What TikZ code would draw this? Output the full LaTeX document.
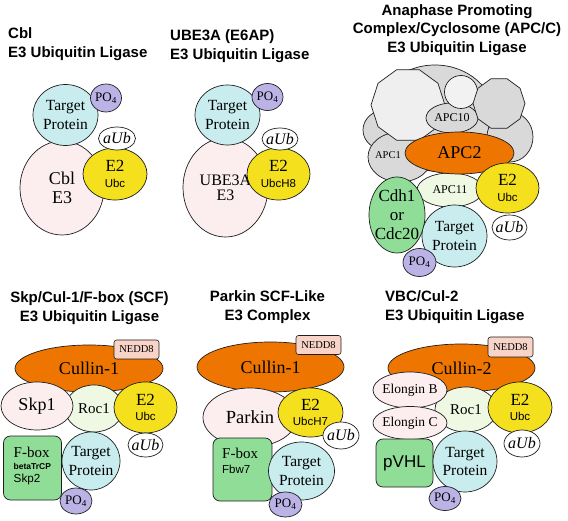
\documentclass[tikz,border=0pt]{standalone}
\usepackage{fontspec}
\setmainfont{Liberation Serif}
\setsansfont{Liberation Sans}
\usetikzlibrary{shapes.geometric}
\definecolor{ink}{HTML}{1E1E1E}
\definecolor{tgtcyan}{HTML}{C9EDEF}
\definecolor{phoslav}{HTML}{BBB2E6}
\definecolor{etwoyel}{HTML}{F4E01C}
\definecolor{ethreepink}{HTML}{FCEEEE}
\definecolor{culorange}{HTML}{EE7600}
\definecolor{boxgreen}{HTML}{8FDD97}
\definecolor{rocgreen}{HTML}{EFF8E2}
\definecolor{neddpink}{HTML}{F8D3C8}
\definecolor{apcgray}{HTML}{D9D9D9}
\definecolor{apclight}{HTML}{EFEFEF}
\newcommand{\fsz}[2]{\fontsize{#1}{#2}\selectfont}
\newcommand{\sfsub}[1]{{\sffamily\fsz{11.5}{12}#1}}
\tikzset{
  part/.style={ellipse,draw=ink,line width=0.7pt,inner sep=0pt,outer sep=0pt,align=center},
  wh/.style 2 args={minimum width=#1pt,minimum height=#2pt},
  target/.style={part,fill=tgtcyan,inner xsep=-4pt,font=\fsz{15.5}{18.5}},
  phos/.style={part,fill=phoslav,inner xsep=-3pt,font=\fsz{13}{14}},
  ubq/.style={part,fill=white,inner xsep=-6pt,font=\fsz{16}{16}\itshape},
  etwo/.style={part,fill=etwoyel,font=\fsz{17}{15.5}},
  ethree/.style={part,fill=ethreepink},
  cullin/.style={part,fill=culorange,font=\fsz{18}{18}},
  ringer/.style={part,fill=rocgreen,font=\fsz{15}{15}},
  apcpart/.style={part,fill=apcgray,inner xsep=-3pt,font=\fsz{12}{12}},
  apcpoly/.style={regular polygon,regular polygon sides=10,draw=ink,line width=0.7pt,inner sep=0pt},
  adaptor/.style={rectangle,rounded corners=7pt,draw=ink,line width=0.7pt,fill=boxgreen,inner sep=0pt},
  boxtext/.style={inner sep=0pt,anchor=north west,align=left,font=\fsz{15}{15.5}},
  boxline/.style={inner sep=0pt,anchor=base west},
  neddtag/.style={rectangle,rounded corners=2.5pt,draw=ink,line width=0.6pt,fill=neddpink,
                  minimum width=45pt,minimum height=19pt,inner sep=0pt,font=\fsz{10.5}{11}},
  heading/.style={inner sep=0pt,font=\sffamily\bfseries\fsz{15}{19}}
}
\begin{document}
\begin{tikzpicture}[x=1pt,y=-1pt]
  \useasboundingbox (0,0) rectangle (568,521);

  % Cbl
  \node[heading,anchor=west,align=left] (ttlcbl) at (8,44) {Cbl\\E3 Ubiquitin Ligase};
  \node[ethree,wh={84}{94},font=\fsz{18}{19}] (cbl) at (62,188) {Cbl\\E3};
  \node[target,wh={65}{61}] (tgta) at (65.5,115) {Target\\Protein};
  \node[etwo,wh={64}{52}] (etwoa) at (115,174) {E2\\\sfsub{Ubc}};
  \node[ubq,wh={37}{23}] (ubqa) at (117,138.5) {aUb};
  \node[phos,wh={31}{28}] (phosa) at (106,98) {PO\textsubscript{4}};

  % UBE3A
  \node[heading,anchor=west,align=left] (ttlube) at (170,46) {UBE3A (E6AP)\\E3 Ubiquitin Ligase};
  \node[ethree,wh={85}{99},font=\fsz{16}{15}] (ube) at (225.5,187.5) {UBE3A\\E3};
  \node[target,wh={65}{60}] (tgtb) at (227.5,115) {Target\\Protein};
  \node[etwo,wh={63}{52}] (etwob) at (278.5,174) {E2\\\sfsub{UbcH8}};
  \node[ubq,wh={36}{22}] (ubqb) at (280,139) {aUb};
  \node[phos,wh={31}{27}] (phosb) at (267.5,97) {PO\textsubscript{4}};

  % APC/C
  \node[heading,align=center,font=\sffamily\bfseries\fsz{15}{18.5}] (ttlapc) at (457,30)
    {Anaphase Promoting\\Complex/Cyclosome (APC/C)\\E3 Ubiquitin Ligase};
  \node[apcpart,wh={120}{106}] (apcback) at (435,118) {};
  \node[apcpart,wh={44}{40}] (apcleft) at (385,130) {};
  \node[apcpart,wh={46}{50}] (apcright) at (510,137) {};
  \node[apcpart,wh={64}{50}] (apcone) at (400,157) {};
  \node[font=\fsz{10.5}{11}] (apconetxt) at (388,155) {APC1};
  \node[apcpoly,fill=apclight,minimum size=74pt] (apcbig) at (408,105) {};
  \node[apcpart,wh={52}{30}] (apcten) at (452,118) {APC10};
  \node[part,fill=white!95!black,wh={33}{33}] (apcring) at (461,92) {};
  \node[apcpoly,fill=apcgray,minimum size=52pt] (apcdeca) at (499,103.5) {};
  \node[apcpart,fill=rocgreen,wh={66}{34}] (apceleven) at (450,190) {APC11};
  \node[cullin,wh={109}{42},font=\fsz{18}{18}] (apctwo) at (459.5,153) {APC2};
  \node[part,fill=boxgreen,wh={56}{76},inner xsep=-6pt,inner ysep=-10pt,font=\fsz{17}{19}] (cdh) at (397,215)
    {Cdh1\\or\\Cdc20};
  \node[etwo,wh={63}{50}] (etwoc) at (507.5,188) {E2\\\sfsub{Ubc}};
  \node[ubq,wh={35}{25}] (ubqc) at (509.5,227.5) {aUb};
  \node[target,wh={65}{62}] (tgtc) at (454.5,236) {Target\\Protein};
  \node[phos,wh={33}{28}] (phosc) at (419.5,262.5) {PO\textsubscript{4}};

  % SCF
  \node[heading,align=center] (ttlscf) at (89.5,308.5) {Skp/Cul-1/F-box (SCF)\\E3 Ubiquitin Ligase};
  \node[cullin,wh={148}{47}] (cula) at (89,368.5) {Cullin-1};
  \node[neddtag] (nedda) at (136.5,349.5) {NEDD8};
  \node[ringer,wh={58}{47}] (roca) at (94,408.5) {Roc1};
  \node[ethree,wh={72}{48},font=\fsz{18}{18}] (skp) at (37,406) {Skp1};
  \node[etwo,wh={63}{51}] (etwod) at (145.5,407.5) {E2\\\sfsub{Ubc}};
  \node[adaptor,minimum width=58pt,minimum height=64pt] (fboxa) at (32.5,468) {};
  \node[boxline,font=\fsz{15}{15}] (fboxaname) at (13.5,457.3) {F-box};
  \node[boxline,font=\sffamily\bfseries\fsz{8.5}{9}] (fboxavar) at (13.5,469) {betaTrCP};
  \node[boxline,font=\sffamily\fsz{11.7}{12}] (fboxaskp) at (13.5,482.7) {Skp2};
  \node[target,wh={58}{58}] (tgtd) at (91,461) {Target\\Protein};
  \node[ubq,wh={35}{24}] (ubqd) at (145.5,445) {aUb};
  \node[phos,wh={32}{26}] (phosd) at (76,501) {PO\textsubscript{4}};

  % Parkin
  \node[heading,align=center] (ttlpark) at (267.5,307.5) {Parkin SCF-Like\\E3 Complex};
  \node[cullin,wh={147}{50}] (culb) at (270.5,367) {Cullin-1};
  \node[neddtag] (neddb) at (318.5,345) {NEDD8};
  \node[ethree,wh={94}{59},font=\fsz{18.5}{18}] (parkin) at (250,417.5) {Parkin};
  \node[etwo,wh={65}{49}] (etwoe) at (310.5,412.5) {E2\\\sfsub{UbcH7}};
  \node[ubq,wh={36}{27}] (ubqe) at (341,435.5) {aUb};
  \node[adaptor,minimum width=59pt,minimum height=63pt] (fboxb) at (242.5,469.5) {};
  \node[boxtext] (fboxbtxt) at (222,447.5) {F-box\\\sfsub{Fbw7}};
  \node[target,wh={66}{58}] (tgte) at (301.5,471) {Target\\Protein};
  \node[phos,wh={33}{25}] (phose) at (285.5,504.5) {PO\textsubscript{4}};

  % VBC/Cul-2
  \node[heading,anchor=west,align=left] (ttlvbc) at (385,307.5) {VBC/Cul-2\\E3 Ubiquitin Ligase};
  \node[cullin,wh={147}{48}] (culc) at (461.5,368) {Cullin-2};
  \node[neddtag,minimum height=20pt] (neddc) at (510.5,347) {NEDD8};
  \node[ringer,wh={62}{45}] (rocb) at (466,409.5) {Roc1};
  \node[ethree,wh={74}{36},inner xsep=-6pt,font=\fsz{13.5}{14}] (elob) at (410,390) {Elongin B};
  \node[ethree,wh={74}{33},inner xsep=-6pt,font=\fsz{13.5}{14}] (eloc) at (410,423) {Elongin C};
  \node[etwo,wh={64}{51}] (etwof) at (520,407.5) {E2\\\sfsub{Ubc}};
  \node[ubq,wh={36}{27}] (ubqf) at (522,443.5) {aUb};
  \node[adaptor,minimum width=57pt,minimum height=48pt,font=\sffamily\fsz{17}{17}] (pvhl) at (404.5,463) {pVHL};
  \node[target,wh={64}{61}] (tgtf) at (465,461.5) {Target\\Protein};
  \node[phos,wh={32}{24}] (phosf) at (445,498.5) {PO\textsubscript{4}};
\end{tikzpicture}
\end{document}
